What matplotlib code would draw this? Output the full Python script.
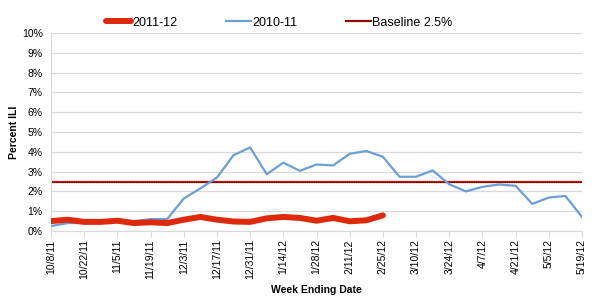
import matplotlib.pyplot as plt
import numpy as np

plt.rcParams['font.family'] = ['Liberation Sans', 'DejaVu Sans']

# week ending dates, weekly from 10/8/11 to 5/19/12
weeks = ["10/8/11", "10/15/11", "10/22/11", "10/29/11", "11/5/11", "11/12/11",
         "11/19/11", "11/26/11", "12/3/11", "12/10/11", "12/17/11", "12/24/11",
         "12/31/11", "1/7/12", "1/14/12", "1/21/12", "1/28/12", "2/4/12",
         "2/11/12", "2/18/12", "2/25/12", "3/3/12", "3/10/12", "3/17/12",
         "3/24/12", "3/31/12", "4/7/12", "4/14/12", "4/21/12", "4/28/12",
         "5/5/12", "5/12/12", "5/19/12"]

season_2011 = [0.50, 0.57, 0.46, 0.46, 0.52, 0.40, 0.44, 0.40, 0.57, 0.71,
               0.57, 0.48, 0.46, 0.64, 0.71, 0.66, 0.52, 0.66, 0.49, 0.54,
               0.79]

season_2010 = [0.25, 0.40, 0.40, 0.40, 0.50, 0.50, 0.60, 0.60, 1.64, 2.15,
               2.70, 3.83, 4.22, 2.87, 3.45, 3.04, 3.36, 3.31, 3.90, 4.04,
               3.75, 2.74, 2.74, 3.06, 2.36, 2.00, 2.23, 2.35, 2.28, 1.37,
               1.69, 1.77, 0.71]

baseline = 2.5

fig = plt.figure(figsize=(6, 3), dpi=100)
ax = fig.add_axes([0.085, 0.23, 0.885, 0.66])

x_all = np.arange(len(weeks))
x_2011 = np.arange(len(season_2011))

ax.plot(x_2011, season_2011, color="#dd2a0c", lw=4.3, solid_capstyle="round",
        label="2011-12", zorder=4)
ax.plot(x_all, season_2010, color="#6a9fd8", lw=1.6, label="2010-11", zorder=3)
ax.axhline(baseline, color="#c8140a", lw=1.6, zorder=2)
ax.axhline(baseline, color="#3a0a05", lw=0.8, ls=(0, (1, 1)), zorder=2)

# legend proxy for baseline
base_proxy, = ax.plot([], [], color="#8a1008", lw=1.6, label="Baseline 2.5%")

ax.set_xlim(0, len(weeks) - 1)
ax.set_ylim(0, 10)
ax.set_yticks(np.arange(0, 11, 1))
ax.set_yticklabels([f"{v}%" for v in range(11)], fontsize=7.5)
ax.set_xticks(x_all[::2])
ax.set_xticklabels(weeks[::2], rotation=90, fontsize=7.5)

ax.grid(axis="y", color="#d9d9d9", lw=0.9)
ax.set_axisbelow(True)
for side in ["top", "right"]:
    ax.spines[side].set_visible(False)
ax.spines["left"].set_color("#d9d9d9")
ax.spines["bottom"].set_color("#d9d9d9")
ax.tick_params(axis="x", length=4, color="#d9d9d9", pad=2)
ax.tick_params(axis="y", length=0, pad=6)

ax.set_ylabel("Percent ILI", fontsize=7.5, fontweight="bold", labelpad=2)
ax.set_xlabel("Week Ending Date", fontsize=7.5, fontweight="bold", labelpad=4)

handles, labels = ax.get_legend_handles_labels()
fig.legend(handles, labels, loc="center", bbox_to_anchor=(0.465, 0.925),
           ncol=3, frameon=False, fontsize=9, handlelength=2.0,
           handletextpad=0.1, columnspacing=3.9)

fig.savefig("out.png", dpi=100)
